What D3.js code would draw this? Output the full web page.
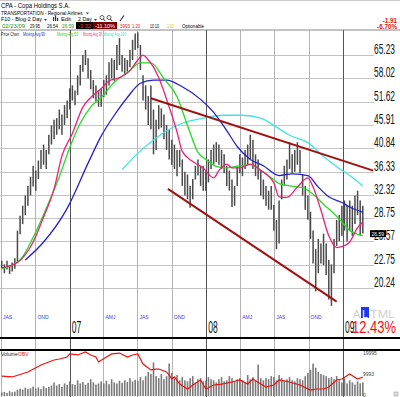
<!DOCTYPE html>
<html>
<head>
<meta charset="utf-8">
<script src="https://cdn.jsdelivr.net/npm/d3@7"></script>
<style>
body { margin: 0; background: #fff; }
svg { display: block; font-family: "Liberation Sans", Arial, sans-serif; }
</style>
</head>
<body>
<div id="chart"></div>
<script>
// weekly bars, week 0 = 3 Jul 2006
var weekHigh = [23.2, 22.8, 23.2, 22.7, 23.0, 23.5, 27.0, 29.1, 30.6, 32.2,
    33.8, 35.4, 37.4, 36.5, 38.4, 40.5, 41.6, 40.5, 43.7, 45.8,
    47.1, 47.5, 49.6, 48.4, 50.7, 51.9, 55.2, 56.0, 54.6, 58.9,
    62.0, 65.2, 66.9, 64.2, 60.5, 57.5, 56.0, 54.6, 55.2, 57.5,
    58.9, 62.9, 64.2, 63.6, 68.6, 71.0, 65.2, 64.2, 63.6, 66.9,
    70.4, 72.7, 73.1, 68.6, 58.9, 56.0, 53.1, 56.0, 49.6, 47.1,
    50.7, 49.9, 48.4, 45.9, 44.8, 42.6, 41.6, 40.5, 40.5, 38.6,
    36.3, 35.8, 33.8, 35.0, 37.4, 38.6, 37.4, 37.4, 36.5, 38.6,
    40.5, 41.6, 42.1, 41.6, 40.5, 39.6, 37.4, 36.5, 34.9, 33.8,
    37.4, 39.6, 39.0, 40.5, 41.6, 43.7, 42.6, 39.6, 38.6, 36.5,
    34.9, 33.8, 33.0, 33.8, 30.7, 28.5, 31.4, 34.9, 37.4, 38.6,
    42.1, 39.6, 40.5, 42.1, 40.5, 35.8, 33.8, 32.2, 29.7, 27.0,
    24.6, 25.9, 25.3, 26.6, 25.3, 23.3, 22.8, 25.9, 28.5, 29.2,
    30.6, 31.4, 30.6, 31.4, 30.6, 32.2, 33.0, 31.4, 30.6];
var weekLow = [22.3, 21.8, 22.2, 21.7, 22.0, 22.3, 23.0, 26.5, 27.9, 29.2,
    30.6, 32.2, 33.7, 33.0, 35.0, 36.8, 37.6, 36.8, 39.6, 41.6,
    42.7, 43.7, 44.9, 43.7, 45.9, 47.5, 49.6, 51.9, 50.7, 53.4,
    56.0, 60.0, 62.0, 58.0, 54.9, 52.5, 51.6, 50.3, 50.3, 52.8,
    53.4, 56.0, 58.0, 57.3, 60.5, 62.0, 60.0, 59.3, 60.0, 61.3,
    63.6, 66.9, 67.6, 60.5, 51.9, 49.6, 45.9, 44.9, 39.6, 40.5,
    44.9, 45.3, 42.7, 40.5, 38.6, 37.6, 36.8, 35.5, 37.2, 33.8,
    32.2, 31.6, 30.3, 31.6, 34.9, 35.6, 33.8, 33.0, 33.0, 34.4,
    36.8, 37.6, 38.1, 37.6, 36.8, 36.0, 33.8, 33.0, 30.4, 30.6,
    33.8, 36.0, 35.5, 36.8, 37.6, 38.6, 36.8, 35.5, 34.9, 32.2,
    31.6, 30.6, 30.0, 30.0, 27.0, 24.6, 25.3, 31.6, 33.8, 34.9,
    36.8, 36.0, 36.3, 37.6, 36.0, 32.2, 30.0, 28.5, 25.9, 22.9,
    19.9, 21.8, 22.9, 22.7, 21.6, 19.1, 18.5, 21.8, 25.0, 25.6,
    26.3, 27.0, 25.6, 27.0, 26.3, 27.9, 29.2, 26.3, 26.6];
var weekVolume = [1200, 1500, 1000, 1800, 1300, 1600, 2500,
    3000, 2600, 3500, 2800, 3200, 4000, 3000, 3600, 2800, 4200, 3300, 3800, 4500,
    6000, 4500, 5200, 3800, 5500, 4800, 6500, 5200, 4800, 7000, 5500, 6200, 4800, 5800, 7500, 6000, 5000, 5500, 6500,
    5500, 6800, 5200, 7500, 6000, 5500, 6800, 5800, 7000, 6200, 8000, 6500, 7200, 6800,
    8500, 7000, 9000, 11000, 10000, 15500, 9000, 8000, 10000, 7500, 9000, 15000, 10500, 8000, 9500, 7000,
    8500, 7000, 6500, 8000, 9000, 6000, 7500, 8000, 6500, 7000, 8500, 7500,
    7000, 6000, 7500, 8500, 6500, 7000, 9000, 8000, 6500, 7500, 8000, 7000, 6000, 9500, 7500, 8500, 7000, 14500, 8000, 7000,
    8000, 7500, 9000, 8500, 7000, 9500, 8000, 7000, 7500, 8500, 7000, 6500, 8000, 7500, 7000,
    9000, 10500, 12000, 15000, 13000, 11000, 10000, 9500, 9000, 8000,
    8500, 7500, 9000, 7000, 6000, 8000, 5500, 7000, 6000, 5000, 6500, 5500, 6000];

// moving averages: [week, price]
var ma30 = [[0,22.4],[6,23.0],[12,25.5],[16,28.9],[20,33.3],[23,39.3],[27,44.0],[31,50.2],[34,52.7],[38,55.1],
    [41,57.3],[45,58.2],[49,60.3],[52,63.6],[54,65.2],[56,63.6],[58,61.4],[60,58.2],[64,50.2],[67,44.3],
    [69,40.2],[73,38.2],[77,37.0],[81,35.2],[83,36.5],[86,37.7],[88,37.0],[91,37.0],[95,37.7],[99,36.5],
    [104,34.3],[106,32.0],[109,31.9],[113,33.6],[117,35.2],[119,33.6],[122,29.9],[125,26.3],[128,24.8],
    [130,24.9],[133,25.5],[136,27.4],[138,28.2]];
var ma50 = [[0,22.3],[7,23.3],[12,26.1],[17,30.2],[22,35.4],[26,41.0],[30,46.3],[34,50.2],[38,52.7],[43,56.9],
    [48,59.7],[53,62.7],[57,62.7],[62,57.9],[67,52.9],[71,45.8],[75,40.0],[78,38.6],[82,37.3],[86,37.0],
    [90,37.3],[95,37.6],[99,36.6],[103,35.2],[106,34.2],[110,33.8],[115,33.5],[119,32.4],[123,30.8],
    [127,29.4],[130,28.2],[133,27.0],[137,26.4],[138,26.3]];
var ma90 = [[9,23.3],[16,25.5],[25,30.2],[33,37.9],[38,43.4],[43,48.2],[48,52.7],[53,56.6],[58,57.5],[63,57.5],
    [69,55.6],[76,52.2],[81,48.9],[86,44.6],[90,41.2],[95,38.6],[100,37.4],[106,35.6],[111,35.9],[117,35.6],
    [121,33.6],[125,32.0],[130,31.1],[133,30.4],[138,29.6]];
var ma160 = [[46,36.7],[53,40.3],[59,43.0],[63,44.6],[69,46.3],[77,47.5],[85,48.2],[92,48.2],[99,47.5],
    [105,45.4],[110,43.6],[117,42.0],[123,39.2],[129,36.9],[133,35.6],[138,33.8]];

// on balance volume: [week, value]
var obv = [[0,21.7],[4,20.7],[10,26.1],[15,33.7],[20,39.1],[22,40.2],[25,42.4],[26,45.7],[29,44.6],[32,47.8],
    [34,44.6],[36,42.4],[37,37.0],[40,42.4],[42,45.7],[45,46.7],[48,42.4],[50,44.6],[52,45.7],[54,34.8],
    [57,28.3],[59,29.3],[60,29.3],[63,26.1],[65,18.5],[66,20.7],[68,13.0],[71,7.6],[73,12.0],[76,17.4],
    [78,7.6],[81,12.0],[84,13.0],[88,15.2],[91,17.4],[94,13.0],[96,18.5],[99,13.0],[101,9.8],[104,12.0],
    [106,17.4],[110,15.2],[114,12.0],[118,6.5],[120,7.6],[123,7.6],[125,9.8],[128,17.4],[130,18.5],
    [133,23.9],[136,18.5],[138,20.7]];

// trend lines: [week, price]
var upperTrend = [[57, 52.5], [142, 36.5]];
var lowerTrend = [[63.5, 33.3], [128, 18.9]];

var priceTicks = [20.24, 22.75, 25.57, 28.75, 32.32, 36.33, 40.84, 45.91, 51.62, 58.02, 65.23];
var volTicks = [0, 9993, 19995];
var quarterNames = {6: "JAS", 9: "OND", 3: "AMJ"};
var lastPrice = 26.59;

var width = 400, height = 397;
var startWeek = new Date(2006, 6, 3);
function weekDate(w) { return d3.timeHour.offset(startWeek, Math.round(w * 7 * 24)); }

var svg = d3.select("#chart").append("svg")
    .attr("width", width)
    .attr("height", height);
svg.append("rect").attr("width", width).attr("height", height).attr("fill", "#fff");

var x = d3.scaleTime().domain([new Date(2006, 6, 1), new Date(2009, 0, 1)]).range([1, 343]);
var y = d3.scaleLog().domain([20.24, 65.23]).range([288, 55]);
var yVol = d3.scaleLinear().domain([0, 20000]).range([395, 353]);
var yObv = d3.scaleLinear().domain([0, 50]).range([396, 350]);

var quarters = d3.timeMonth.every(3).range(new Date(2006, 6, 1), new Date(2009, 0, 2));

// text squeezed horizontally to a given width
function label(parent, xp, yp, size, w, txt, color) {
    var t = parent.append("text").attr("font-size", size).attr("fill", color || "#000").text(txt);
    var s = w / t.node().getComputedTextLength();
    t.attr("transform", "translate(" + xp + "," + yp + ") scale(" + s + ",1)");
    return t;
}
function marker(xp, yp) {
    svg.append("path").attr("d", "M" + xp + "," + yp + "h3l-1.5,2z").attr("fill", "#444");
}

// header
svg.append("line").attr("x1", 0).attr("x2", width).attr("y1", 0.5).attr("y2", 0.5).attr("stroke", "#ccc");
label(svg, 1, 8, 7, 69, "CPA - Copa Holdings S.A.");
label(svg, 1, 14.5, 6, 82, "TRANSPORTATION - Regional Airlines");
marker(86, 12.5);
label(svg, 1, 21, 6, 41, "F10 - Blog-2 Day");
marker(44, 19);
var icon = svg.append("g").attr("fill", "#333");
icon.append("rect").attr("x", 53).attr("y", 17).attr("width", 1.2).attr("height", 4);
icon.append("rect").attr("x", 55).attr("y", 16).attr("width", 1.2).attr("height", 5);
icon.append("rect").attr("x", 57).attr("y", 18).attr("width", 1.2).attr("height", 3);
label(svg, 61, 21, 6, 10, "Edit");
label(svg, 78, 21, 6, 14, "2 Day");
marker(94, 19);
[102, 109].forEach(function (cx) {
    svg.append("circle").attr("cx", cx).attr("cy", 17.5).attr("r", 2).attr("fill", "none").attr("stroke", "#333").attr("stroke-width", 0.8);
    svg.append("line").attr("x1", cx + 1.4).attr("y1", 19).attr("x2", cx + 3.2).attr("y2", 21).attr("stroke", "#333");
});
svg.append("line").attr("x1", 120).attr("y1", 21).attr("x2", 124).attr("y2", 15.5).attr("stroke", "#333").attr("stroke-width", 1.2);

svg.append("rect").attr("x", 76).attr("y", 22).attr("width", 17).attr("height", 7).attr("fill", "#000");
svg.append("rect").attr("x", 93).attr("y", 22).attr("width", 24).attr("height", 7).attr("fill", "#7a0000");
var row = [
    {x: 2, w: 23, t: "02/23/09", c: "#1a9a1a"},
    {x: 30, w: 10, t: "29.95", c: "#000"},
    {x: 47, w: 11, t: "26.54", c: "#000"},
    {x: 62, w: 12, t: "26.59", c: "#1a9a1a"},
    {x: 78, w: 13, t: "-3.32", c: "#ff3030"},
    {x: 95, w: 20, t: "-11.10%", c: "#fff"},
    {x: 120, w: 10, t: "3993", c: "#e01010"},
    {x: 132, w: 8, t: "1.20", c: "#e01010"},
    {x: 150, w: 9, t: "10.10", c: "#000"},
    {x: 167, w: 7, t: "1/10", c: "#d8c000"},
    {x: 182, w: 22, t: "Optionable", c: "#000"}
];
row.forEach(function (d) { label(svg, d.x, 27.8, 5.8, d.w, d.t, d.c); });
svg.append("text").attr("x", 397).attr("y", 22.5).attr("text-anchor", "end").attr("font-size", 6.3)
    .attr("font-weight", "bold").attr("fill", "#e01010").text("-1.91");
svg.append("text").attr("x", 397).attr("y", 29).attr("text-anchor", "end").attr("font-size", 6.3)
    .attr("font-weight", "bold").attr("fill", "#e01010").text("-6.70%");
svg.append("line").attr("x1", 0).attr("x2", width).attr("y1", 30).attr("y2", 30).attr("stroke", "#888");

// grid
svg.selectAll(".hgrid").data(priceTicks).enter().append("line")
    .attr("x1", 0).attr("x2", 374)
    .attr("y1", function (d) { return Math.round(y(d)) + 0.5; })
    .attr("y2", function (d) { return Math.round(y(d)) + 0.5; })
    .attr("stroke", "#c4c4c4");
svg.selectAll(".vgrid").data(quarters).enter().append("line")
    .attr("x1", function (d) { return Math.round(x(d)) + 0.5; })
    .attr("x2", function (d) { return Math.round(x(d)) + 0.5; })
    .attr("y1", 30).attr("y2", height)
    .attr("stroke", function (d) { return d.getMonth() == 0 ? "#555" : "#b4b4b4"; });

// volume panel
svg.selectAll(".vol").data(weekVolume).enter().append("rect")
    .attr("x", function (d, i) { return x(weekDate(i)) - 0.8; })
    .attr("y", function (d) { return yVol(d); })
    .attr("width", 1.6)
    .attr("height", function (d) { return yVol(0) - yVol(d) + 1; })
    .attr("fill", "#7a7a7a");
var obvLine = d3.line()
    .x(function (d) { return x(weekDate(d[0])); })
    .y(function (d) { return yObv(d[1]); });
svg.append("path").datum(obv).attr("d", obvLine)
    .attr("fill", "none").attr("stroke", "#ee1111").attr("stroke-width", 1.2);
svg.append("text").attr("x", 1).attr("y", 356).attr("font-size", 5).attr("fill", "#222").text("Volume");
svg.append("text").attr("x", 18).attr("y", 356).attr("font-size", 5).attr("fill", "#ee1111").text("OBV");
svg.selectAll(".vlab").data(volTicks).enter().append("text")
    .attr("x", 363)
    .attr("y", function (d) { return yVol(d) + 2; })
    .attr("font-size", 5).attr("fill", "#444")
    .text(function (d) { return d; });
svg.append("rect").attr("x", 394).attr("y", 392).attr("width", 4).attr("height", 4)
    .attr("fill", "#ddd").attr("stroke", "#999").attr("stroke-width", 0.5);

// price panel
svg.append("clipPath").attr("id", "plot").append("rect")
    .attr("x", 0).attr("y", 30).attr("width", 374).attr("height", 308);
var plot = svg.append("g").attr("clip-path", "url(#plot)");

var bars = weekHigh.map(function (h, i) { return {d: weekDate(i), hi: h, lo: weekLow[i]}; });
plot.selectAll(".bar").data(bars).enter().append("line")
    .attr("x1", function (d) { return x(d.d); })
    .attr("x2", function (d) { return x(d.d); })
    .attr("y1", function (d) { return y(d.hi); })
    .attr("y2", function (d) { return y(d.lo); })
    .attr("stroke", "#4a4a4a").attr("stroke-width", 1.5);

var maLine = d3.line()
    .x(function (d) { return x(weekDate(d[0])); })
    .y(function (d) { return y(d[1]); })
    .curve(d3.curveMonotoneX);
var averages = [
    {data: ma160, color: "#40e4e4"},
    {data: ma90, color: "#2222cc"},
    {data: ma50, color: "#22dd22"},
    {data: ma30, color: "#ee1f78"}
];
averages.forEach(function (m) {
    plot.append("path").datum(m.data).attr("d", maLine)
        .attr("fill", "none").attr("stroke", m.color).attr("stroke-width", 1.3);
});
var trendLine = d3.line()
    .x(function (d) { return x(weekDate(d[0])); })
    .y(function (d) { return y(d[1]); });
[upperTrend, lowerTrend].forEach(function (t) {
    plot.append("path").datum(t).attr("d", trendLine)
        .attr("stroke", "#a01212").attr("stroke-width", 2);
});

// legend
var legend = [
    {x: 1, t: "Price Chart", c: "#222", w: 18},
    {x: 23, t: "Moving Avg 90", c: "#2222cc", w: 22},
    {x: 57, t: "Moving Avg 50", c: "#22cc22", w: 21},
    {x: 83, t: "Moving Avg 30", c: "#ee1f78", w: 19},
    {x: 103, t: "Moving Avg 160", c: "#30d8d8", w: 23}
];
legend.forEach(function (d) { label(svg, d.x, 35.5, 5, d.w, d.t, d.c); });

// separators
svg.append("rect").attr("x", 0).attr("y", 337).attr("width", width).attr("height", 2).attr("fill", "#000");
svg.append("rect").attr("x", 0).attr("y", 349).attr("width", width).attr("height", 2).attr("fill", "#000");

// price axis labels
priceTicks.forEach(function (d) { label(svg, 374, y(d) - 1, 14, 21, d.toFixed(2), "#111"); });
svg.append("rect").attr("x", 370).attr("y", y(lastPrice) - 3.5).attr("width", 16).attr("height", 7).attr("fill", "#000");
svg.append("text").attr("x", 371.5).attr("y", y(lastPrice) + 2).attr("font-size", 5).attr("fill", "#fff")
    .text(lastPrice.toFixed(2));

// time axis labels
svg.selectAll(".qlab").data(quarters.filter(function (d) { return d.getMonth() != 0; })).enter().append("text")
    .attr("x", function (d) { return x(d) + 2; })
    .attr("y", 319)
    .attr("font-size", 5)
    .attr("fill", "#3a3ae8")
    .text(function (d) { return quarterNames[d.getMonth()]; });
quarters.filter(function (d) { return d.getMonth() == 0; }).forEach(function (d) {
    label(svg, x(d) + 2, 333, 17, 9.5, d3.timeFormat("%y")(d), "#111");
});

// ALTML badge and percent
svg.append("text").attr("x", 353).attr("y", 318).attr("font-size", 11).attr("fill", "#cfcfcf").text("A");
svg.append("rect").attr("x", 361).attr("y", 307).attr("width", 8).attr("height", 11).attr("fill", "#1a3af0");
svg.append("text").attr("x", 362).attr("y", 318).attr("font-size", 11).attr("fill", "#fff").text("L");
label(svg, 370, 318, 11, 25, "TML", "#cfcfcf");
label(svg, 352, 333, 16, 44, "12.43%", "#ee1111");
</script>
</body>
</html>
